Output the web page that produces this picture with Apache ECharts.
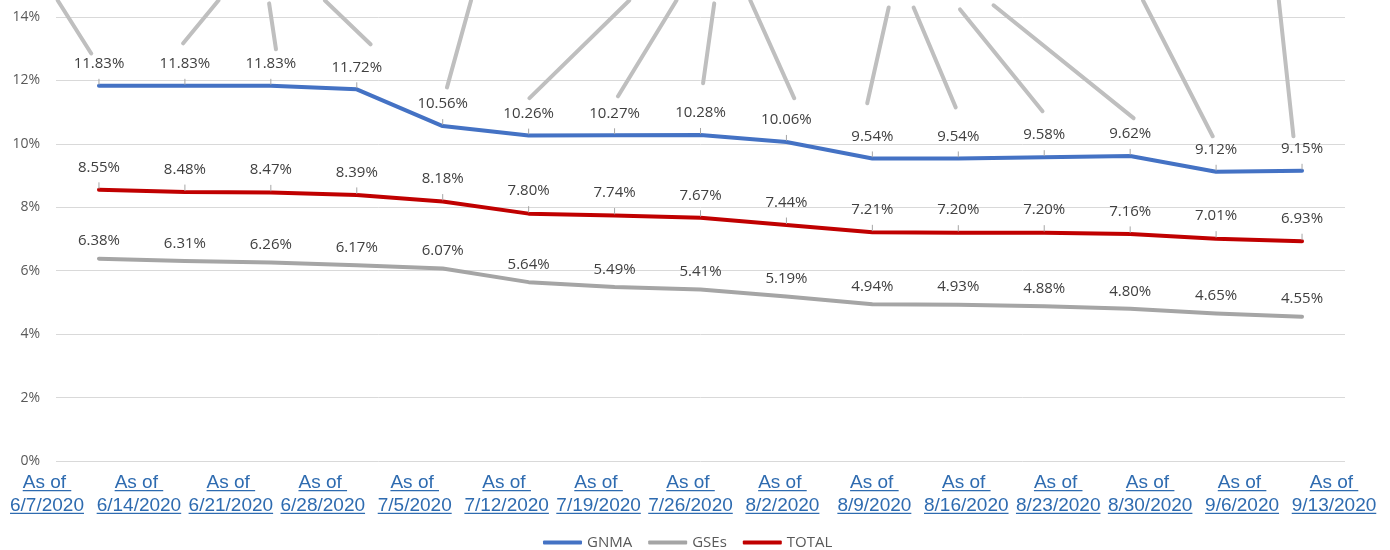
<!DOCTYPE html>
<html><head><meta charset="utf-8">
<script src="https://cdn.jsdelivr.net/npm/echarts@6/dist/echarts.min.js"></script>
<style>html,body{margin:0;padding:0;background:#fff}#c{width:1390px;height:550px}</style>
</head><body><div id="c"></div>
<script>
const categories = ['As of 6/7/2020','As of 6/14/2020','As of 6/21/2020','As of 6/28/2020','As of 7/5/2020','As of 7/12/2020','As of 7/19/2020','As of 7/26/2020','As of 8/2/2020','As of 8/9/2020','As of 8/16/2020','As of 8/23/2020','As of 8/30/2020','As of 9/6/2020','As of 9/13/2020'];
const gnma  = [11.83, 11.83, 11.83, 11.72, 10.56, 10.26, 10.27, 10.28, 10.06, 9.54, 9.54, 9.58, 9.62, 9.12, 9.15];
const gses  = [6.38, 6.31, 6.26, 6.17, 6.07, 5.64, 5.49, 5.41, 5.19, 4.94, 4.93, 4.88, 4.80, 4.65, 4.55];
const total = [8.55, 8.48, 8.47, 8.39, 8.18, 7.80, 7.74, 7.67, 7.44, 7.21, 7.20, 7.20, 7.16, 7.01, 6.93];
const yTicks = [0, 2, 4, 6, 8, 10, 12, 14];
// stray leader lines in the original: [x from (category index), y from (%), x to, y to]
const leaderLines = [
  [-0.48, 14.52, -0.09, 12.85],
  [1.39, 14.52, 0.98, 13.17],
  [1.98, 14.43, 2.06, 12.98],
  [2.63, 14.52, 3.16, 13.14],
  [4.33, 14.52, 4.05, 11.78],
  [6.17, 14.52, 5.01, 11.44],
  [6.72, 14.52, 6.04, 11.50],
  [7.16, 14.43, 7.03, 11.91],
  [7.58, 14.52, 8.09, 11.44],
  [9.19, 14.30, 8.94, 11.28],
  [9.48, 14.30, 9.97, 11.15],
  [10.02, 14.24, 10.98, 11.03],
  [10.41, 14.37, 12.04, 10.81],
  [12.15, 14.52, 12.96, 10.24],
  [13.73, 14.52, 13.90, 10.24]
];

const AX_FONT = 'Liberation Sans';
const AX_SIZE = 19;
const AX_COLOR = '#2E6BB0';
const cv = document.createElement('canvas').getContext('2d');
cv.font = AX_SIZE + 'px "' + AX_FONT + '"';
const rich = {
  a: {fontFamily: AX_FONT, fontSize: AX_SIZE, color: AX_COLOR, lineHeight: 14},
  b: {fontFamily: AX_FONT, fontSize: AX_SIZE, color: AX_COLOR, lineHeight: 14},
  s: {fontSize: 4, lineHeight: 7.5},
  ua: {fontSize: 1, width: cv.measureText('As of ').width, height: 1.2, lineHeight: 1.2, backgroundColor: AX_COLOR}
};
categories.forEach((c, i) => {
  const d = c.replace('As of ', '');
  rich['d' + i] = {fontSize: 1, width: cv.measureText(d).width, height: 1.2, lineHeight: 1.2, backgroundColor: AX_COLOR};
});

const LABEL_FONT = 'Open Sans';
function lineSeries(name, data, color, dist, withLine) {
  return {
    name, type: 'line', data, xAxisIndex: 0, yAxisIndex: 0,
    symbol: 'circle', symbolSize: 2, showSymbol: true,
    itemStyle: {color},
    lineStyle: {width: 4, color, cap: 'round', join: 'round'},
    label: {show: true, position: 'top', distance: dist,
      formatter: p => p.value.toFixed(2) + '%',
      color: '#404040', fontSize: 15, fontFamily: LABEL_FONT},
    labelLine: {show: withLine, lineStyle: {color: '#A6A6A6', width: 1}},
    emphasis: {disabled: true}, z: 3
  };
}

const chart = echarts.init(document.getElementById('c'));
chart.setOption({
  animation: false,
  grid: [
    {left: 56, right: 45, top: 17, bottom: 89},
    {left: 47, right: 56, top: 17, bottom: 89}
  ],
  legend: {
    data: ['GNMA', 'GSEs', 'TOTAL'], left: 538, top: 530,
    icon: 'roundRect', itemWidth: 39, itemHeight: 4, itemGap: 16,
    textStyle: {color: '#595959', fontSize: 15, fontFamily: LABEL_FONT}
  },
  xAxis: [
    {type: 'category', gridIndex: 0, data: categories, boundaryGap: true,
     axisLine: {show: false}, axisTick: {show: false}, axisLabel: {show: false}, splitLine: {show: false}},
    {type: 'category', gridIndex: 1, data: categories, boundaryGap: false,
     axisLine: {show: false}, axisTick: {show: false}, splitLine: {show: false},
     axisLabel: {show: true, interval: 0, margin: 15, hideOverlap: false,
       formatter: (v, i) => '{a|As of }\n{ua| }\n{s| }\n{b|' + v.replace('As of ', '') + '}\n{d' + i + '| }',
       rich}},
    {type: 'value', gridIndex: 0, min: -0.5, max: 14.5, show: false}
  ],
  yAxis: [
    {type: 'value', gridIndex: 0, min: yTicks[0], max: yTicks[yTicks.length - 1], interval: 2,
     axisLine: {show: false}, axisTick: {show: false},
     axisLabel: {formatter: '{value}%', color: '#595959', fontSize: 14, fontFamily: LABEL_FONT, margin: 16},
     splitLine: {lineStyle: {color: '#D9D9D9', width: 1}}},
    {type: 'value', gridIndex: 1, min: 0, max: 14, show: false}
  ],
  series: [
    {type: 'custom', name: 'leader', xAxisIndex: 2, yAxisIndex: 0, data: leaderLines, clip: false,
     encode: {x: [0, 2], y: [1, 3]}, silent: true, z: 1,
     renderItem: (params, api) => {
       const p1 = api.coord([api.value(0), api.value(1)]);
       const p2 = api.coord([api.value(2), api.value(3)]);
       return {type: 'line', shape: {x1: p1[0], y1: p1[1], x2: p2[0], y2: p2[1]},
         style: {stroke: '#BFBFBF', lineWidth: 4, lineCap: 'round'}};
     }},
    lineSeries('GNMA', gnma, '#4472C4', 13.5, true),
    lineSeries('GSEs', gses, '#A5A5A5', 9, false),
    lineSeries('TOTAL', total, '#C00000', 14, true)
  ]
});
</script></body></html>
